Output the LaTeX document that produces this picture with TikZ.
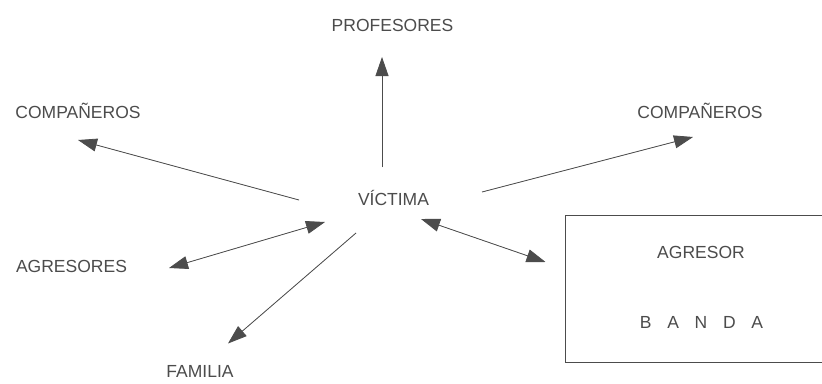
\documentclass[tikz,border=0pt]{standalone}
\usepackage{fontspec}
\setmainfont{Liberation Sans}
\usetikzlibrary{arrows.meta}

\definecolor{ink}{gray}{0.3}

\tikzset{
  lbl/.style={inner sep=0pt, text=ink, text height=12.5pt, text depth=0pt,
    font=\fontsize{17.5}{20}\selectfont},
  link/.style={draw=ink, fill=ink, line width=0.8pt}
}

\begin{document}
\begin{tikzpicture}[x=1pt,y=1pt,>={Triangle[length=19pt,width=13pt]}]

\newcommand\GAP{\hspace{0.9em}}

  \clip (0,0) rectangle (822,-383);
  \fill[white] (0,0) rectangle (822,-383);

  %% labels
  \node[lbl] (profesores)  at (392.5,-25)  {PROFESORES};
  \node[lbl] (companerosL) at ( 78,-112.5) {COMPAÑEROS};
  \node[lbl] (companerosR) at (700,-112)   {COMPAÑEROS};
  \node[lbl] (victima)     at (393.5,-199) {VÍCTIMA};
  \node[lbl] (agresores)   at ( 71.5,-266.5) {AGRESORES};
  \node[lbl] (familia)     at (200,-371.5) {FAMILIA};

  %% box (runs off the right edge)
  \node[draw=ink, line width=1pt, inner sep=0pt,
    minimum width=340, minimum height=147] (grupo) at (735,-288.5) {};
  \node[lbl] (agresor) at (701,-252.5) {AGRESOR};
  \node[lbl] (banda)   at (701.5,-322) {B\GAP A\GAP N\GAP D\GAP A};

  %% victim to others
  \draw[link,->] ([shift={(-11.5,32)}]victima.center)
    -- ([shift={(-10.5,-32)}]profesores.center); %% up
  \draw[link,->] ([shift={(-94.5,-1)}]victima.center)
    -- ([shift={(0,-27.5)}]companerosL.center);
  \draw[link,->] ([shift={(88.5,7)}]victima.center)
    -- ([shift={(-7,-25)}]companerosR.center);
  \draw[link,<->] ([shift={(-68.5,-23)}]victima.center)
    -- ([shift={(97.5,-1.5)}]agresores.center);
  \draw[link,->] ([shift={(-37.5,-34)}]victima.center)
    -- ([shift={(28,28)}]familia.center);
  \draw[link,<->] ([shift={(27.5,-20)}]victima.center)
    -- ([shift={(-19,26.5)}]grupo.west); %% box

\end{tikzpicture}
\end{document}
